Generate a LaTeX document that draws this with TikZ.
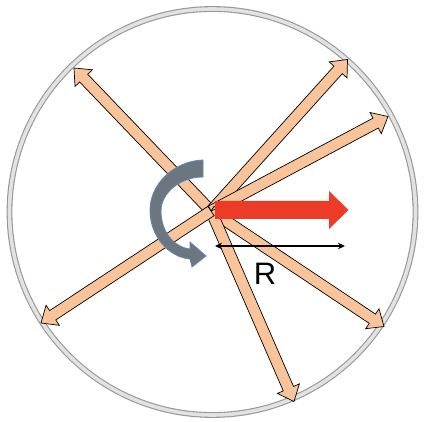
\documentclass[tikz,border=0pt]{standalone}
\usepackage{fontspec}
\setmainfont{Liberation Sans}
\usetikzlibrary{calc,arrows.meta}
\definecolor{peach}{RGB}{249,196,154}
\definecolor{redar}{RGB}{236,60,40}
\definecolor{slate}{RGB}{108,118,127}
\definecolor{slateedge}{RGB}{95,135,182}
\definecolor{ringout}{RGB}{150,150,150}
\definecolor{ringin}{RGB}{226,226,224}
\tikzset{
  peachar/.style={fill=peach,draw=black,line width=0.7pt,line join=miter},
  redstyle/.style={fill=redar,draw=none},
  spinstyle/.style={fill=slate,draw=slateedge,line width=0.8pt},
  dimarrow/.style={line width=1.1pt,{Stealth[length=7pt,width=6.5pt]}-{Stealth[length=7pt,width=6.5pt]}},
  lbl/.style={inner sep=0pt,font=\fontsize{31}{31}\selectfont}
}
\newcommand{\pArrow}[2]{%
  \coordinate (nk) at ($(#2)!14pt!(#1)$);
  \path[peachar] ($(#1)!5.6pt!90:(#2)$) -- ($(nk)!5.6pt!90:(#2)$) -- ($(nk)!12pt!90:(#2)$)
    -- (#2) -- ($(nk)!12pt!-90:(#2)$) -- ($(nk)!5.6pt!-90:(#2)$) -- ($(#1)!5.6pt!-90:(#2)$) -- cycle;
}
\begin{document}
\begin{tikzpicture}[x=1pt,y=-1pt]
\useasboundingbox (0,0) rectangle (424,422);
\fill[white] (0,0) rectangle (424,422);
% ring
\coordinate (c) at (212.5,212);
\draw[ringout,line width=5.8pt] (c) circle[radius=203];
\draw[ringin,line width=3.6pt] (c) circle[radius=203];
% origin and arrow tips
\coordinate (o) at (211,211);
\coordinate (t1) at (74,68);
\coordinate (t2) at (347.5,59.5);
\coordinate (t3) at (388,116.5);
\coordinate (t4) at (41,323);
\coordinate (t5) at (384,326.5);
\coordinate (t6) at (294,401.5);
\pArrow{o}{t1}
\pArrow{o}{t2}
\pArrow{o}{t3}
\pArrow{o}{t5}
\pArrow{o}{t6}
\pArrow{o}{t4}
% curved rotation arrow
\path[spinstyle] (203,160) .. controls (174,161) and (150,184) .. (150,210)
  .. controls (150,236) and (168,257) .. (190,259)
  -- (192,267) -- (206,256) -- (190,242) -- (190,249)
  .. controls (174,247) and (161,232) .. (161,211)
  .. controls (161,193) and (180,177) .. (203,177) -- cycle;
% red arrow
\path[redstyle] (215,201) -- (329,201) -- (329,191) -- (348.5,210) -- (329,229)
  -- (329,219) -- (215,219) -- cycle;
% radius
\coordinate (ra) at (215,246);
\coordinate (rb) at (345,246);
\draw[dimarrow] (ra) -- (rb);
\node[lbl] (R) at (265,274) {R};
\end{tikzpicture}
\end{document}
